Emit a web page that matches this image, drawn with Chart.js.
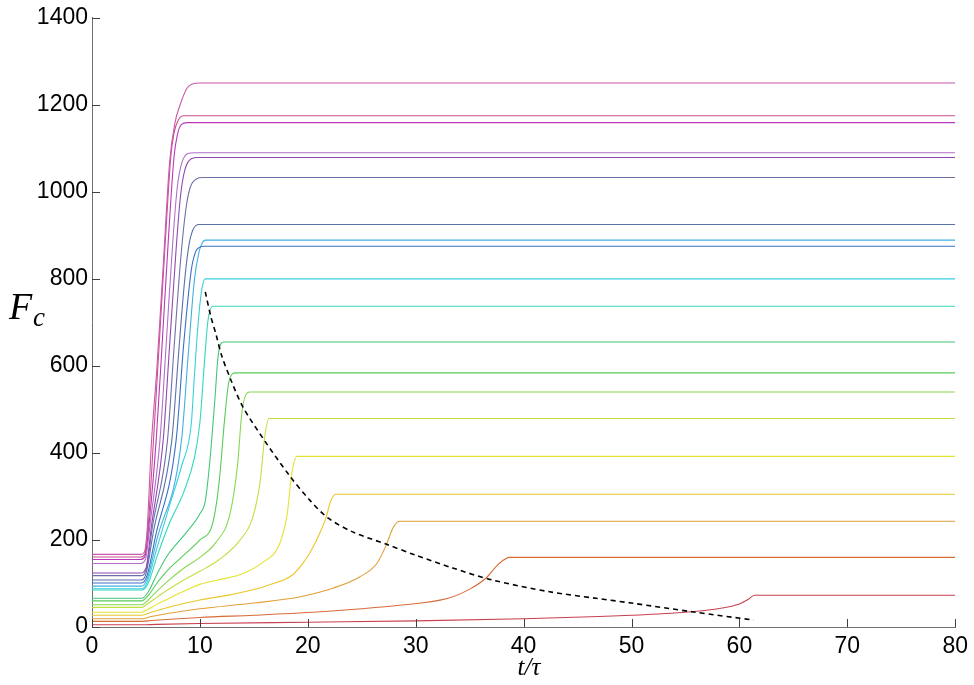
<!DOCTYPE html>
<html>
<head>
<meta charset="utf-8">
<script src="https://cdn.jsdelivr.net/npm/chart.js@4/dist/chart.umd.min.js"></script>
<style>
  html, body { margin: 0; padding: 0; background: #ffffff; }
  #wrap { width: 974px; height: 685px; }
</style>
</head>
<body>
<div id="wrap"><canvas id="c" width="974" height="685"></canvas></div>
<script>
// ---- data: [t/tau, Fc] pairs ----
const xTicks = [0, 10, 20, 30, 40, 50, 60, 70, 80];
const yTicks = [0, 200, 400, 600, 800, 1000, 1200, 1400];

const boundary = [[10.5,770],[11.0,715],[11.5,672],[12.0,625],[12.9,566],[14.0,505],[16.0,428],[18.3,348],[20.2,291],[21.9,250],[24.2,218],[27.3,190],[30,165],[33.5,135],[37.1,108],[42.4,81],[46.7,66],[50,55],[55.6,35],[61.3,16]];

const c1250 = [[0,167],[4.5,167],[4.85,172],[5.1,220],[5.5,420],[6.0,590],[6.6,830],[7.2,1070],[7.7,1160],[8.1,1195],[8.8,1238],[9.3,1248],[10,1250],[80,1250]];
const c1175 = [[0,161],[4.5,161],[4.9,168],[5.2,230],[5.7,430],[6.3,680],[6.9,930],[7.3,1080],[7.6,1135],[8.0,1165],[8.5,1175],[80,1175]];
const c1159 = [[0,155],[4.5,155],[4.9,162],[5.3,240],[5.95,430],[6.5,650],[7.1,900],[7.6,1080],[7.9,1130],[8.3,1155],[8.8,1159],[80,1159]];
const c1090 = [[0,146],[4.5,146],[4.95,155],[5.4,240],[6.3,430],[6.9,660],[7.5,890],[7.9,1010],[8.3,1065],[8.9,1088],[9.5,1090],[80,1090]];
const c1079 = [[0,124],[4.5,124],[5.0,135],[5.5,230],[6.6,430],[7.2,650],[7.8,870],[8.2,990],[8.6,1050],[9.2,1076],[9.8,1079],[80,1079]];
const c1033 = [[0,118],[4.5,118],[5.0,130],[5.6,230],[7.0,430],[7.6,640],[8.2,840],[8.7,960],[9.1,1010],[9.7,1030],[10.3,1033],[80,1033]];
const c925  = [[0,108],[4.5,108],[5.0,122],[5.7,220],[7.4,430],[8.0,620],[8.6,800],[9.0,880],[9.4,915],[9.9,925],[80,925]];
const c875  = [[0,101],[4.6,101],[5.1,118],[5.9,210],[7.8,430],[8.5,650],[9.2,820],[9.6,862],[10.0,873],[10.4,875],[80,875]];
const c889  = [[0,94],[4.6,94],[5.1,110],[6.0,200],[8.3,430],[8.9,620],[9.5,800],[9.9,860],[10.2,882],[10.5,889],[80,889]];
const c800  = [[0,88],[4.6,88],[5.1,102],[6.0,180],[7.2,280],[8.3,370],[9.2,467],[9.5,581],[9.83,696],[10.15,772],[10.5,800],[80,800]];
const c737  = [[0,85],[4.6,85],[5.2,100],[6.0,160],[7.2,240],[8.5,310],[9.5,390],[10.0,470],[10.45,618],[10.75,705],[11.2,737],[80,737]];
const c655  = [[0,66],[4.6,66],[5.2,80],[6.0,120],[7.0,165],[8.5,210],[10.0,260],[10.5,290],[10.9,375],[11.4,527],[11.7,625],[12.2,655],[80,655]];
const c584  = [[0,60],[4.6,60],[5.2,72],[6.0,100],[7.0,130],[8.5,165],[10.0,200],[11.2,240],[11.8,337],[12.3,480],[12.7,565],[13.3,584],[80,584]];
const c540  = [[0,51],[4.6,51],[5.2,62],[6.0,82],[7.0,105],[8.5,135],[10.0,160],[11.5,195],[12.8,261],[13.5,375],[13.9,495],[14.6,540],[80,540]];
const c479  = [[0,45],[4.6,45],[5.2,54],[6.0,68],[7.0,85],[8.5,108],[10.0,128],[11.8,155],[13.7,199],[14.9,252],[15.6,337],[16.0,435],[16.4,479],[80,479]];
const c392  = [[0,34],[4.6,34],[5.2,41],[6.0,52],[7.0,64],[8.5,82],[10.0,98],[12,110],[13.7,120],[15.8,148],[17.4,192],[18.1,261],[18.5,350],[19.0,392],[80,392]];
const c305  = [[0,27],[4.6,27],[5.5,34],[7,45],[10,62],[13,75],[16.2,95],[18.6,120],[19.5,145],[20.3,175],[21.1,215],[21.7,252],[22.1,288],[22.6,305],[80,305]];
const c243  = [[0,19],[4.6,19],[5.5,24],[7,31],[10,42],[15,55],[19.2,69],[22.3,89],[24.8,115],[26.4,146],[27.3,190],[27.9,228],[28.5,243],[80,243]];
const c160  = [[0,13],[4.6,13],[5.5,15],[10,22],[15,27],[19.2,32],[25,42],[28.5,50],[33,66],[35,87],[36.5,112],[37.7,145],[38.7,160],[80,160]];
const c73   = [[0,5],[4.6,5],[6,6],[10,8],[20,11],[30,14],[40,19],[47,24],[50,27],[55.6,35],[58,42],[60,53],[60.8,63],[61.4,73],[80,73]];

const curves = [c1250, c1175, c1159, c1090, c1079, c1033, c925, c875, c889, c800, c737, c655, c584, c540, c479, c392, c305, c243, c160, c73];
const curveColors = ['#c858a8','#c8508c','#b838b8','#b070c8','#9048b0','#7070a8','#5a70a8','#3a70c8','#40b0e0','#38d0e0','#30d8b8','#40c878','#58cc58','#88d850','#c0e040','#e4e430','#e8c828','#e0a038','#d86a38','#c84050'];

const toXY = arr => arr.map(p => ({x: p[0], y: p[1]}));

const datasets = [{
  data: toXY(boundary), borderColor: '#000000', borderWidth: 1.6, borderDash: [5, 4],
  pointRadius: 0, tension: 0.3, fill: false
}];
curves.forEach((c, i) => datasets.push({
  data: toXY(c), borderColor: curveColors[i], borderWidth: 1.1,
  pointRadius: 0, cubicInterpolationMode: 'monotone', fill: false
}));

const axisColor = '#707070';

const innerTicks = {
  id: 'innerTicks',
  afterDraw(chart) {
    const {ctx, chartArea: a, scales: {x, y}} = chart;
    ctx.save();
    ctx.strokeStyle = '#404040';
    ctx.lineWidth = 1;
    ctx.beginPath();
    yTicks.forEach(v => { const py = Math.round(y.getPixelForValue(v)) + 0.5; ctx.moveTo(a.left, py); ctx.lineTo(a.left + 8, py); });
    xTicks.forEach(v => { const px = Math.round(x.getPixelForValue(v)) + 0.5; ctx.moveTo(px, a.bottom); ctx.lineTo(px, a.bottom - 8); });
    ctx.stroke();
    // axis titles
    ctx.fillStyle = '#000000';
    ctx.textBaseline = 'alphabetic';
    ctx.textAlign = 'left';
    ctx.font = 'italic 38px "Liberation Serif", "DejaVu Serif", serif';
    ctx.fillText('F', 9, 319);
    ctx.font = 'italic 27px "Liberation Serif", "DejaVu Serif", serif';
    ctx.fillText('c', 33, 326);
    ctx.textAlign = 'center';
    ctx.font = 'italic 25px "Liberation Serif", "DejaVu Serif", serif';
    ctx.fillText('t/\u03C4', x.getPixelForValue(40.5), 675);
    ctx.restore();
  }
};

const tickFont = { family: '"Liberation Sans", Arial, sans-serif', size: 23 };

new Chart(document.getElementById('c'), {
  type: 'line',
  data: { datasets },
  options: {
    responsive: false,
    animation: false,
    devicePixelRatio: 1,
    layout: { padding: { top: 16, right: 17, left: 0, bottom: 0 } },
    plugins: { legend: { display: false }, tooltip: { enabled: false } },
    scales: {
      x: {
        type: 'linear', min: 0, max: 80,
        afterFit: s => { s.height = 58; },
        afterBuildTicks: s => { s.ticks = xTicks.map(v => ({value: v})); },
        ticks: { color: '#000', padding: 6, font: tickFont, callback: v => String(v) },
        grid: { display: true, drawOnChartArea: false, drawTicks: false, color: 'rgba(0,0,0,0)' },
        border: { display: true, color: axisColor, width: 1 }
      },
      y: {
        type: 'linear', min: 0, max: 1400,
        afterFit: s => { s.width = 92; },
        afterBuildTicks: s => { s.ticks = yTicks.map(v => ({value: v})); },
        ticks: { color: '#000', padding: 4, font: tickFont, callback: v => String(v) },
        grid: { display: true, drawOnChartArea: false, drawTicks: false, color: 'rgba(0,0,0,0)' },
        border: { display: true, color: axisColor, width: 1 }
      }
    }
  },
  plugins: [innerTicks]
});
</script>
</body>
</html>
